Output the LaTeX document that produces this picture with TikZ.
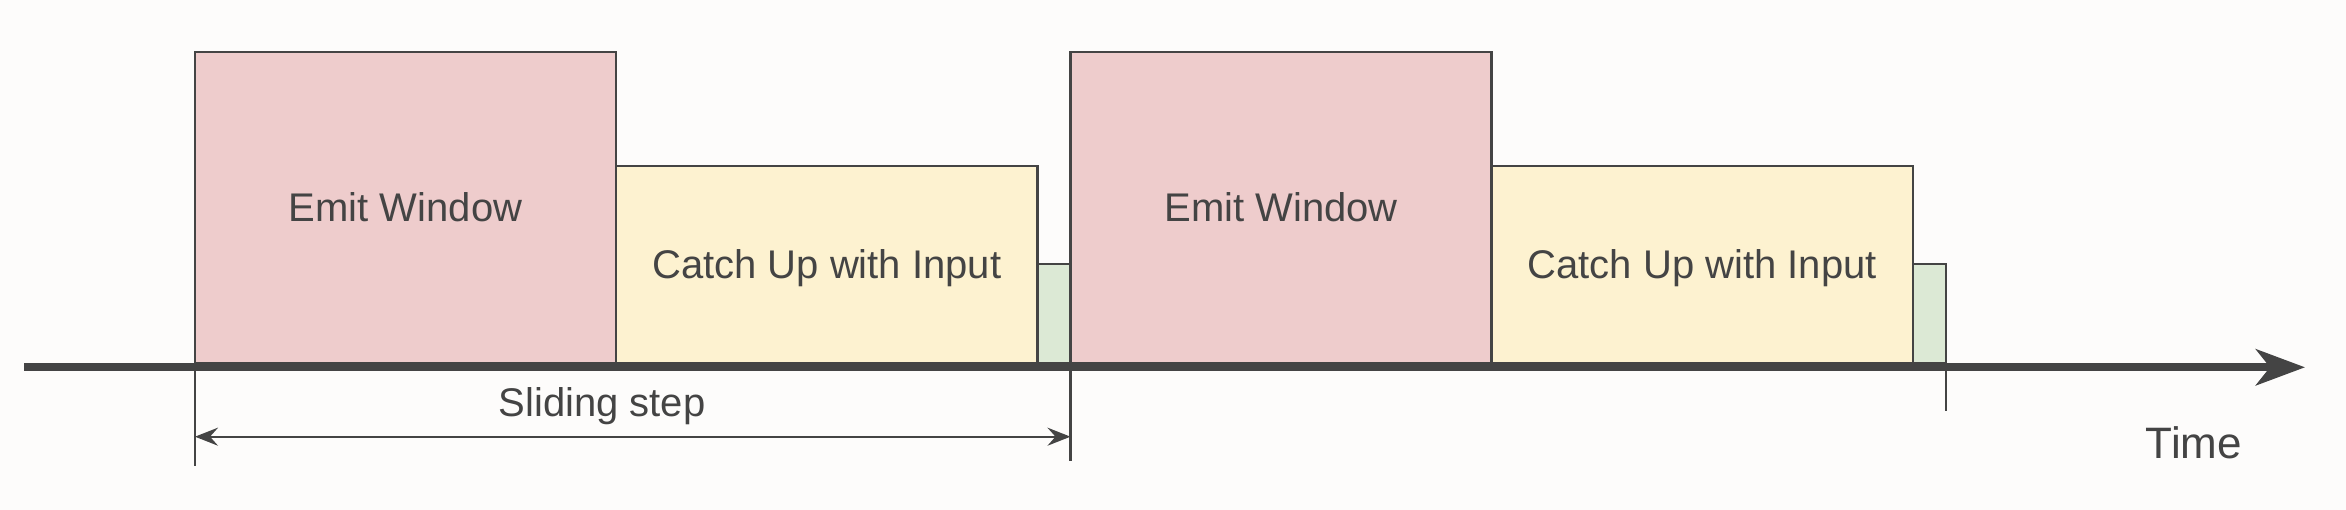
\documentclass[tikz,border=0pt]{standalone}
\usepackage{fontspec}
\setmainfont{Liberation Sans}
\usetikzlibrary{arrows.meta}
\definecolor{emitfill}{HTML}{EECCCC}
\definecolor{catchfill}{HTML}{FDF2D0}
\definecolor{idlefill}{HTML}{DCE9D5}
\definecolor{ink}{HTML}{444444}
\definecolor{paper}{HTML}{FDFCFB}
\begin{document}
\begin{tikzpicture}[x=1pt,y=1pt,
  phase/.style={draw=ink, line width=2.3pt, anchor=south west, inner sep=0pt, outer sep=0pt,
    text=ink, font=\fontsize{40}{48}\selectfont, text height=28.5pt, text depth=0pt},
  label/.style={text=ink, anchor=base, inner sep=0pt}]
\fill[paper] (0,0) rectangle (2346,510);
\useasboundingbox (0,0) rectangle (2346,510);

\foreach \k in {0,1} {
  \node[phase, fill=emitfill, minimum width=421pt, minimum height=311pt]
    (emit\k) at ({195+875.5*\k},147) {Emit Window};
  \node[phase, fill=catchfill, minimum width=421.5pt, minimum height=197.3pt]
    (catch\k) at (emit\k.south east) {Catch Up with Input};
  \node[phase, fill=idlefill, minimum width=33pt, minimum height=99pt]
    (idle\k) at (catch\k.south east) {};
}

% time axis
\coordinate (t0) at (24,142.7);
\coordinate (t1) at (2305,142.7);
\draw[ink, line width=8pt, -{Stealth[length=49pt,width=36pt,inset=14pt]}] (t0) -- (t1);

% step marks
\coordinate (m0) at (195,44);
\coordinate (m1) at (1070.5,49);
\coordinate (m2) at (1946,99.3);
\draw[ink, line width=2.3pt] (emit0.south west) -- (m0);
\draw[ink, line width=2.3pt] (emit1.south west) -- (m1);
\draw[ink, line width=2.3pt] (idle1.south east) -- (m2);

\coordinate (a0) at (195,73.3);
\coordinate (a1) at (1070.5,73.3);
\draw[ink, line width=2.3pt, {Stealth[length=23pt,width=18pt,inset=8pt]}-{Stealth[length=23pt,width=18pt,inset=8pt]}] (a0) -- (a1);

\node[label, font=\fontsize{40}{48}\selectfont] (steplabel) at (602,93) {Sliding step};
\node[label, font=\fontsize{44}{52}\selectfont] (timelabel) at (2194,51.7) {Time};

\end{tikzpicture}
\end{document}
